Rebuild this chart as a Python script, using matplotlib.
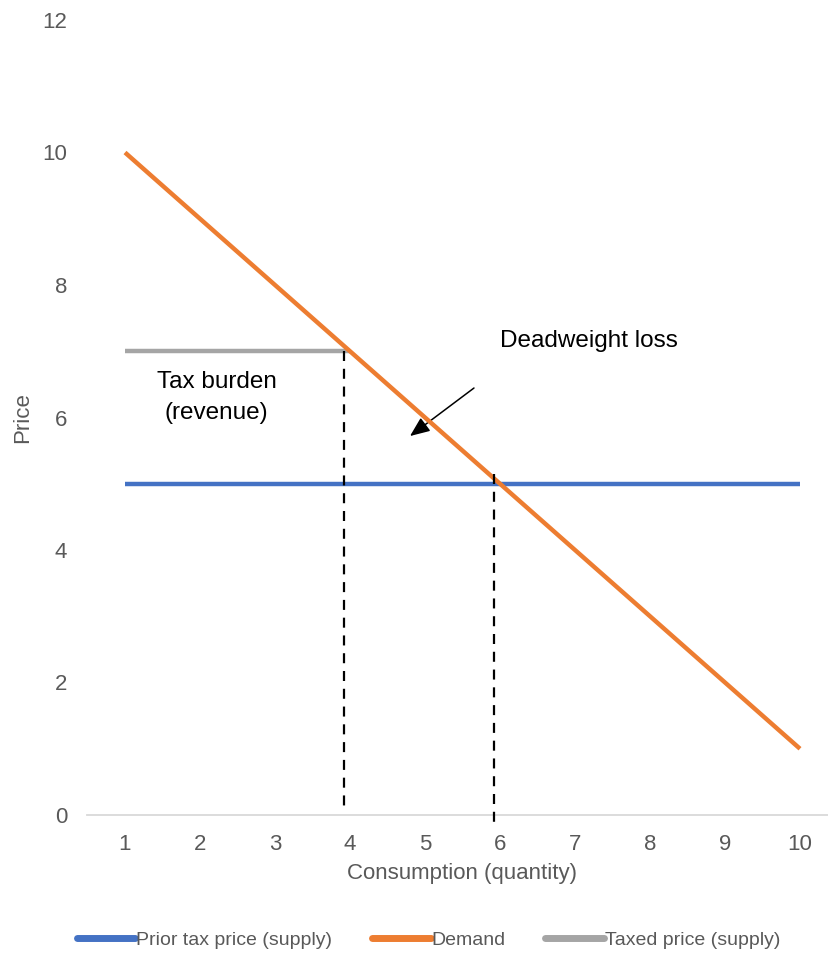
import matplotlib
matplotlib.use("Agg")
import matplotlib.pyplot as plt
from matplotlib.lines import Line2D

plt.rcParams['font.family'] = ['Liberation Sans', 'DejaVu Sans']

# quantities on the category axis
quantity = [1, 2, 3, 4, 5, 6, 7, 8, 9, 10]
# supply before the tax
prior_price = [5, 5, 5, 5, 5, 5, 5, 5, 5, 5]
# demand curve
demand = [10, 9, 8, 7, 6, 5, 4, 3, 2, 1]
# supply after the tax (only drawn up to the new equilibrium)
taxed_qty = [1, 2, 3, 4]
taxed_price = [7, 7, 7, 7]

# guide lines down to the axis
taxed_eq = (3.92, 7.0)
prior_eq = (5.92, 5.15)

BLUE = '#4472C4'
ORANGE = '#ED7D31'
GREY = '#A5A5A5'
TXT = '#595959'

fig = plt.figure(figsize=(8.29, 9.67), dpi=100)
ax = fig.add_axes([87.5 / 829, 152 / 967, (829 - 87.5) / 829, 795 / 967])

ax.plot(quantity, prior_price, color=BLUE, lw=3.2, solid_capstyle='butt', zorder=3)
ax.plot(quantity, demand, color=ORANGE, lw=3.2, solid_capstyle='butt', zorder=4)
ax.plot(taxed_qty, taxed_price, color=GREY, lw=3.2, solid_capstyle='butt', zorder=3)

ax.plot([taxed_eq[0], taxed_eq[0]], [taxed_eq[1], 0.05], color='black', lw=1.6,
        dashes=(4.5, 3.5), zorder=5)
ax.plot([prior_eq[0], prior_eq[0]], [prior_eq[1], -0.12], color='black', lw=1.6,
        dashes=(4.5, 3.5), zorder=5, clip_on=False)

ax.text(2.22, 6.3, 'Tax burden\n(revenue)', ha='center', va='center', fontsize=17.5,
        color='black', linespacing=1.55)
ax.text(6.0, 7.15, 'Deadweight loss', ha='left', va='center', fontsize=17.5, color='black')
ax.annotate('', xy=(4.8, 5.72), xytext=(5.653, 6.445),
            arrowprops=dict(arrowstyle='-|>,head_length=1.2,head_width=0.5',
                            color='black', lw=1.1, shrinkA=0, shrinkB=0))

ax.set_xlim(0.5, 0.5 + (829 - 87.5) / 75)
ax.set_ylim(0, 12)
ax.set_xticks(quantity)
ax.set_yticks([0, 2, 4, 6, 8, 10, 12])
ax.tick_params(axis='both', length=0, labelsize=16, labelcolor=TXT)
ax.tick_params(axis='x', pad=14)
ax.tick_params(axis='y', pad=14.5)
for side in ['top', 'right', 'left']:
    ax.spines[side].set_visible(False)
ax.spines['bottom'].set_color('#D9D9D9')
ax.spines['bottom'].set_linewidth(1.3)

ax.set_xlabel('Consumption (quantity)', fontsize=16, color=TXT)
ax.set_ylabel('Price', fontsize=16, color=TXT)
ax.xaxis.set_label_coords((462 - 87.5) / (829 - 87.5), -0.061)
ax.yaxis.set_label_coords(-0.0735, 0.5)

handles = [Line2D([], [], color=c, lw=5, solid_capstyle='round') for c in (BLUE, ORANGE, GREY)]
fig.legend(handles, ['Prior tax price (supply)', 'Demand', 'Taxed price (supply)'],
           loc='center', bbox_to_anchor=(0.517, 0.028), ncol=3, frameon=False,
           fontsize=14, labelcolor=TXT, handlelength=3.0, handletextpad=0.05,
           columnspacing=2.05)

fig.savefig('out.png', dpi=100)
